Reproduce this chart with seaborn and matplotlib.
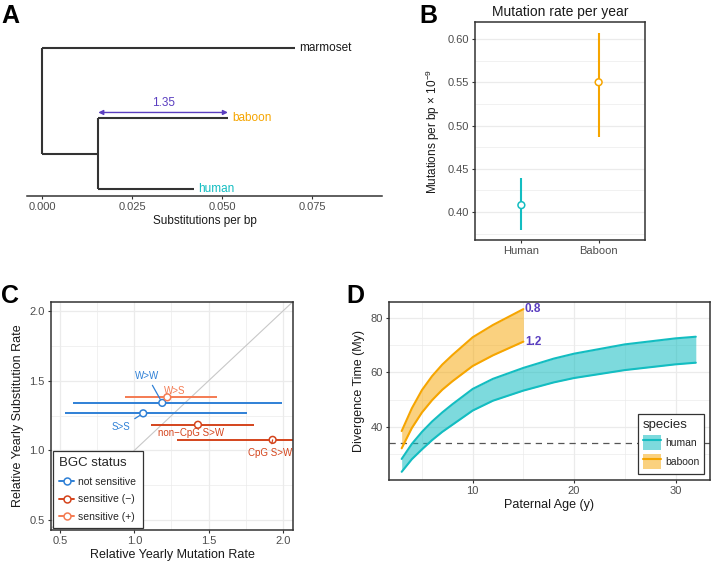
import numpy as np
import pandas as pd
import matplotlib
matplotlib.use('Agg')
import matplotlib.pyplot as plt
from matplotlib.lines import Line2D
from matplotlib.patches import Patch
import seaborn as sns

# ---- panel A: tree ----
tip_names = ['human', 'baboon', 'marmoset']
tip_x = [0.0422, 0.0516, 0.0703]
tip_y = [1, 2, 3]
node_x = 0.0156   # human/baboon ancestor
root_x = 0.0
ratio_text = '1.35'

# ---- panel B: yearly mutation rate ----
species_cap = ['Human', 'Baboon']
rate_mid = [0.408, 0.550]
rate_lo = [0.379, 0.487]
rate_hi = [0.439, 0.607]

# ---- panel C: mutation vs substitution ----
mut_classes = ['W>W', 'S>S', 'W>S', 'non\u2212CpG S>W', 'CpG S>W']
bgc_status = ['not sensitive', 'not sensitive', 'sensitive (+)',
              'sensitive (\u2212)', 'sensitive (\u2212)']
mut_rate = [1.188, 1.060, 1.222, 1.428, 1.930]
mut_lo = [0.589, 0.534, 0.937, 1.110, 1.285]
mut_hi = [1.991, 1.755, 1.558, 1.807, 2.600]
sub_rate = [1.341, 1.266, 1.381, 1.184, 1.076]

# ---- panel D: divergence time vs paternal age ----
age_h = [3, 4, 5, 6, 7, 8, 10, 12, 15, 18, 20, 25, 30, 32]
human_hi = [28.3, 33.8, 38.2, 42.0, 45.3, 48.3, 53.9, 57.6, 61.6, 65.0, 66.8, 70.2, 72.4, 73.0]
human_lo = [23.6, 28.2, 31.8, 35.2, 38.2, 40.8, 46.0, 49.6, 53.3, 56.3, 57.9, 60.8, 62.9, 63.5]
age_b = [3, 4, 5, 6, 7, 8, 10, 12, 15]
baboon_hi = [38.5, 46.8, 53.5, 58.6, 62.8, 66.3, 72.8, 77.3, 83.1]
baboon_lo = [32.2, 39.6, 45.3, 49.8, 53.6, 56.7, 62.3, 66.2, 71.2]
band_labels = ['0.8', '1.2']
split_time = 34.0

TEAL = '#13BDC1'
ORANGE = '#F6A500'
PURPLE = '#5A3EC0'
DARK = '#333333'
TICKC = '#4D4D4D'
GRID = '#EBEBEB'
bgc_colors = {'not sensitive': '#2F80D6',
              'sensitive (\u2212)': '#D4441C',
              'sensitive (+)': '#F47B52'}

sns.set_theme(style='white')
plt.rcParams['font.family'] = ['Liberation Sans', 'DejaVu Sans']
plt.rcParams['mathtext.fontset'] = 'custom'
plt.rcParams['mathtext.rm'] = 'Liberation Sans'
plt.rcParams['axes.unicode_minus'] = True

W, H = 712, 564
fig = plt.figure(figsize=(W / 100, H / 100), dpi=100)


def box(left, top, right, bottom):
    return [left / W, 1 - bottom / H, (right - left) / W, (bottom - top) / H]


def style_ax(ax, border=True):
    ax.tick_params(axis='both', which='major', length=2.5, width=0.8, color=DARK,
                   labelsize=8, labelcolor=TICKC, pad=2, bottom=True, left=True)
    for s in ax.spines.values():
        s.set_color(DARK)
        s.set_linewidth(1.1)
        s.set_visible(border)


def grids(ax, xmaj, xmin, ymaj, ymin):
    for v in xmaj:
        ax.axvline(v, color=GRID, lw=0.9, zorder=0)
    for v in xmin:
        ax.axvline(v, color=GRID, lw=0.5, zorder=0)
    for v in ymaj:
        ax.axhline(v, color=GRID, lw=0.9, zorder=0)
    for v in ymin:
        ax.axhline(v, color=GRID, lw=0.5, zorder=0)


# ================= A =================
axA = fig.add_axes(box(27, 35, 382, 196))
style_ax(axA, border=False)
axA.spines['bottom'].set_visible(True)
tree_kw = dict(color=DARK, lw=1.5, solid_capstyle='butt')
node_y = (tip_y[0] + tip_y[1]) / 2
# tips
axA.plot([node_x, tip_x[0]], [tip_y[0], tip_y[0]], **tree_kw)
axA.plot([node_x, tip_x[1]], [tip_y[1], tip_y[1]], **tree_kw)
axA.plot([root_x, tip_x[2]], [tip_y[2], tip_y[2]], **tree_kw)
# internal
axA.plot([node_x, node_x], [tip_y[0], tip_y[1]], **tree_kw)
axA.plot([root_x, node_x], [node_y, node_y], **tree_kw)
axA.plot([root_x, root_x], [node_y, tip_y[2]], **tree_kw)
tip_cols = [TEAL, ORANGE, '#1A1A1A']
for nm, x, y, c in zip(tip_names, tip_x, tip_y, tip_cols):
    axA.text(x + 0.0011, y, nm, color=c, fontsize=8.5, va='center', ha='left')
axA.annotate('', xy=(node_x, tip_y[1] + 0.085), xytext=(tip_x[1], tip_y[1] + 0.085),
             arrowprops=dict(arrowstyle='<|-|>', color=PURPLE, lw=1.0,
                             mutation_scale=7, shrinkA=0, shrinkB=0))
axA.text((node_x + tip_x[1]) / 2, tip_y[1] + 0.14, ratio_text, color=PURPLE,
         fontsize=8.5, ha='center', va='bottom')
axA.set_xlim(-0.0042, 0.0944)
axA.set_ylim(0.901, 3.183)
axA.set_yticks([])
axA.set_xticks([0, 0.025, 0.05, 0.075])
axA.set_xticklabels(['0.000', '0.025', '0.050', '0.075'])
axA.set_xlabel('Substitutions per bp', fontsize=8.5, labelpad=2, color='#1A1A1A')

# ================= B =================
axB = fig.add_axes(box(475, 22, 645, 240))
style_ax(axB)
xpos = np.arange(len(species_cap))
grids(axB, [], [], [0.40, 0.45, 0.50, 0.55, 0.60], [0.375, 0.425, 0.475, 0.525, 0.575])
axB.vlines(xpos, rate_lo, rate_hi, colors=[TEAL, ORANGE], lw=1.5, zorder=2)
dfB = pd.DataFrame({'x': xpos, 'rate': rate_mid, 'sp': species_cap})
sns.scatterplot(data=dfB, x='x', y='rate', hue='sp', palette=[TEAL, ORANGE],
                s=24, linewidth=1.1, legend=False, ax=axB, zorder=3)
ptsB = axB.collections[-1]
ptsB.set_facecolor('white')
ptsB.set_edgecolor([TEAL, ORANGE])
axB.set_xlim(-0.6, 1.6)
axB.set_ylim(0.3677, 0.6196)
axB.set_xticks(xpos)
axB.set_xticklabels(species_cap)
axB.set_yticks([0.40, 0.45, 0.50, 0.55, 0.60])
axB.set_yticklabels(['0.40', '0.45', '0.50', '0.55', '0.60'])
axB.set_xlabel('')
axB.set_ylabel(r'Mutations per bp $\times$ 10$^{-9}$', fontsize=8.5, labelpad=4, color='#1A1A1A')
axB.set_title('Mutation rate per year', fontsize=10, pad=4, color='#1A1A1A')

# ================= C =================
axC = fig.add_axes(box(51, 302, 293, 530))
style_ax(axC)
grids(axC, [0.5, 1.0, 1.5, 2.0], [0.75, 1.25, 1.75], [0.5, 1.0, 1.5, 2.0], [0.75, 1.25, 1.75])
axC.axline((1, 1), slope=1, color='#C8C8C8', lw=0.8, zorder=1)
dfC = pd.DataFrame({'cls': mut_classes, 'bgc': bgc_status, 'mu': mut_rate,
                    'lo': mut_lo, 'hi': mut_hi, 'sub': sub_rate})
for _, r in dfC.iterrows():
    axC.hlines(r['sub'], r['lo'], r['hi'], color=bgc_colors[r['bgc']], lw=1.4, zorder=2)
sns.scatterplot(data=dfC, x='mu', y='sub', hue='bgc', palette=bgc_colors, s=24,
                linewidth=1.1, legend=False, ax=axC, zorder=3)
pts = axC.collections[-1]
pts.set_facecolor('white')
pts.set_edgecolor([bgc_colors[b] for b in bgc_status])
# label placement (text centre, segment or not)
lab_pos = {'W>W': (1.086, 1.535, True), 'S>S': (0.910, 1.166, True),
           'W>S': (1.273, 1.428, False), 'non\u2212CpG S>W': (1.381, 1.124, False),
           'CpG S>W': (1.912, 0.979, True)}
for _, r in dfC.iterrows():
    tx, ty, seg = lab_pos[r['cls']]
    c = bgc_colors[r['bgc']]
    if seg:
        axC.annotate(r['cls'], xy=(r['mu'], r['sub']), xytext=(tx, ty), color=c,
                     fontsize=7, ha='center', va='center',
                     arrowprops=dict(arrowstyle='-', color=c, lw=0.9, shrinkA=1, shrinkB=3))
    else:
        axC.text(tx, ty, r['cls'], color=c, fontsize=7, ha='center', va='center')
axC.set_xlim(0.44, 2.067)
axC.set_ylim(0.43, 2.064)
axC.set_xticks([0.5, 1.0, 1.5, 2.0])
axC.set_yticks([0.5, 1.0, 1.5, 2.0])
axC.set_xlabel('Relative Yearly Mutation Rate', fontsize=9, labelpad=2, color='#1A1A1A')
axC.set_ylabel('Relative Yearly Substitution Rate', fontsize=9, labelpad=4, color='#1A1A1A')
handlesC = [Line2D([], [], color=bgc_colors[k], lw=1.4, marker='o', mfc='white',
                   mec=bgc_colors[k], ms=5, mew=1.1) for k in bgc_colors]
legC = axC.legend(handlesC, list(bgc_colors), title='BGC status', loc='lower left',
                  bbox_to_anchor=(0.008, 0.008), fontsize=7.5, title_fontsize=9.5,
                  frameon=True, fancybox=False, edgecolor=DARK, framealpha=1,
                  handlelength=1.45, handletextpad=0.4, labelspacing=0.72,
                  borderpad=0.6, borderaxespad=0)
legC.get_frame().set_linewidth(0.9)
legC._legend_box.align = 'left'

# ================= D =================
axD = fig.add_axes(box(389, 302, 710, 480))
style_ax(axD)
grids(axD, [10, 20, 30], [5, 15, 25], [40, 60, 80], [30, 50, 70])
axD.axhline(split_time, color='#555555', lw=0.9, ls=(0, (5, 4)), zorder=1)
axD.fill_between(age_h, human_lo, human_hi, color=TEAL, alpha=0.55, lw=0, zorder=2)
axD.fill_between(age_b, baboon_lo, baboon_hi, color=ORANGE, alpha=0.5, lw=0, zorder=2)
dfH = pd.DataFrame({'age': age_h, 'hi': human_hi, 'lo': human_lo})
dfBb = pd.DataFrame({'age': age_b, 'hi': baboon_hi, 'lo': baboon_lo})
for col in ['hi', 'lo']:
    sns.lineplot(data=dfH, x='age', y=col, color=TEAL, lw=1.5, ax=axD, zorder=3)
    sns.lineplot(data=dfBb, x='age', y=col, color=ORANGE, lw=1.5, ax=axD, zorder=3)
axD.text(age_b[-1] + 0.15, baboon_hi[-1], band_labels[0], color=PURPLE, fontsize=8.5,
         fontweight='bold', ha='left', va='center')
axD.text(age_b[-1] + 0.15, baboon_lo[-1], band_labels[1], color=PURPLE, fontsize=8.5,
         fontweight='bold', ha='left', va='center')
axD.set_xlim(1.75, 33.4)
axD.set_ylim(20.6, 85.7)
axD.set_xticks([10, 20, 30])
axD.set_yticks([40, 60, 80])
axD.set_xlabel('Paternal Age (y)', fontsize=9, labelpad=2, color='#1A1A1A')
axD.set_ylabel('Divergence Time (My)', fontsize=9, labelpad=4, color='#1A1A1A')
handlesD = [(Patch(facecolor=TEAL, alpha=0.55, lw=0), Line2D([], [], color=TEAL, lw=1.5)),
            (Patch(facecolor=ORANGE, alpha=0.5, lw=0), Line2D([], [], color=ORANGE, lw=1.5))]
legD = axD.legend(handlesD, ['human', 'baboon'], title='species', loc='lower right',
                  bbox_to_anchor=(0.981, 0.035), fontsize=7.5, title_fontsize=9.5,
                  frameon=True, fancybox=False, edgecolor=DARK, framealpha=1,
                  handlelength=1.7, handleheight=1.9, handletextpad=0.4,
                  labelspacing=0.35, borderpad=0.45, borderaxespad=0)
legD.get_frame().set_linewidth(0.9)
legD._legend_box.align = 'left'

# panel letters
for lab, x, y in [('A', 10, 16), ('B', 428, 16), ('C', 10, 296), ('D', 355, 296)]:
    fig.text(x / W, 1 - y / H, lab, fontsize=18, fontweight='bold', ha='center',
             va='center', color='black')

fig.savefig('out.png', dpi=100)
